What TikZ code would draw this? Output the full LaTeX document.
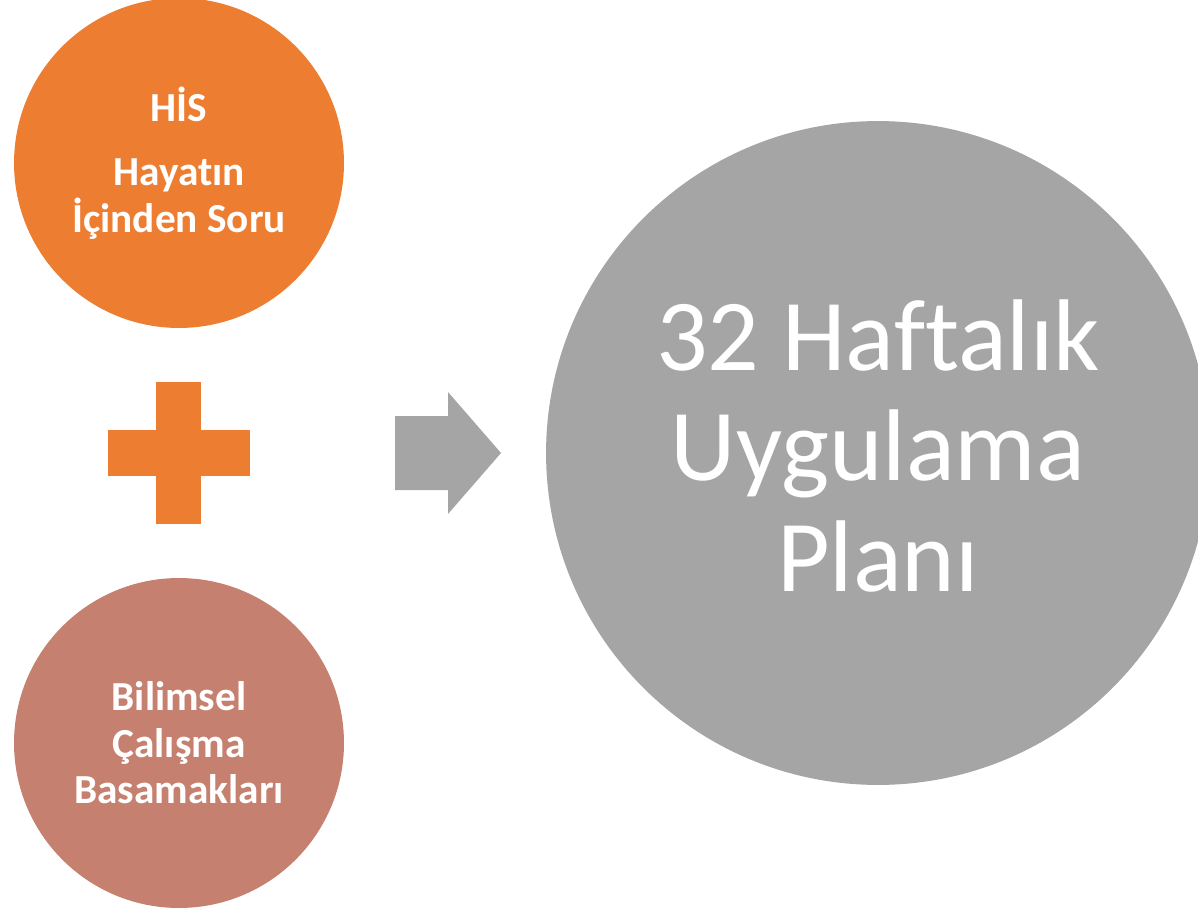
\documentclass[tikz,border=0pt]{standalone}
\usepackage{fontspec}
\setmainfont[Ligatures=NoCommon]{Carlito}
\definecolor{hisorange}{HTML}{ED7D31}
\definecolor{bilimrose}{HTML}{C5806F}
\definecolor{plangray}{HTML}{A5A5A5}
\tikzset{
  konu/.style={circle,minimum size=6.6cm,inner sep=0pt,text=white,align=center,
    font=\fontsize{23.5}{26.5}\selectfont\bfseries},
  plan/.style={circle,minimum size=13.28cm,inner sep=0pt,fill=plangray},
  planyazi/.style={text=white,align=center,font=\fontsize{58}{63}\selectfont}
}

\begin{document}
\begin{tikzpicture}[x=0.02cm,y=-0.02cm]
  \useasboundingbox (0,0) rectangle (1198,909);
  \clip (0,0) rectangle (1198,909);
  % left column
  \node [konu,fill=hisorange] (his) at (179,163) {HİS\\[10pt]Hayatın\\İçinden Soru};
  \fill [hisorange] (156,382) rectangle (201,524);
  \fill [hisorange] (108,430) rectangle (250,476);
  \node [konu,fill=bilimrose] (bilim) at (179,743) {Bilimsel\\Çalışma\\Basamakları};
  % block arrow
  \fill [plangray] (395,416) -- (448,416) -- (448,392) -- (501,453)
        -- (448,514) -- (448,490) -- (395,490) -- cycle;
  % big circle
  \node [plan] (haftalik) at (878,453) {};
  \node [planyazi] (haftalikyazi) at ([yshift=4pt]haftalik.center) {32 Haftalık\\Uygulama\\Planı};
\end{tikzpicture}
\end{document}
